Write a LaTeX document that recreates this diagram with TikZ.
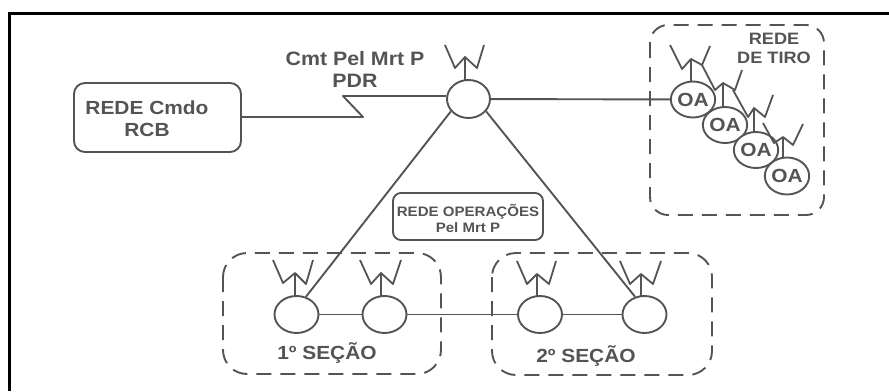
\documentclass[tikz,border=0pt]{standalone}
\usepackage{fontspec}
\setmainfont[FakeStretch=1.1]{Liberation Sans}
\usetikzlibrary{shapes.geometric}
\definecolor{ink}{gray}{0.33}
\tikzset{
  x=1pt,y=-1pt,
  line/.style={draw=ink,line width=1.9pt,line join=round},
  radio/.style={line,draw=ink,ellipse,minimum width=44pt,minimum height=37pt,inner sep=0pt,fill=white},
  observer/.style={radio,font=\bfseries\fontsize{19}{19}\selectfont,text=ink},
  antenna/.style={line,line width=1.8pt},
  netbox/.style={line,rounded corners=11pt,inner sep=0pt},
  zone/.style={draw=ink,line width=1.9pt,dash pattern=on 15pt off 9pt,rounded corners=24pt},
  label/.style={text=ink,align=center,inner sep=0pt},
  frame/.style={draw=black,line width=3pt}
}
\begin{document}
\begin{tikzpicture}
\useasboundingbox (0,0) rectangle (889,391);
% page frame
\draw[frame] (9,391) -- (9,13.5) -- (889,13.5);
% zones
\draw[zone,rounded corners=18pt] (650,25) rectangle (824,215);
\draw[zone] (223,253) rectangle (441,374);
\draw[zone] (492,253) rectangle (712,375);
% stations
\node[radio,minimum width=43pt,minimum height=38pt] (pdr) at (468.5,99) {};
\node[radio] (s1) at (296.5,314.5) {};
\node[radio] (s2) at (384.5,314.5) {};
\node[radio] (s3) at (540,314.5) {};
\node[radio] (s4) at (644.5,314.5) {};
\node[netbox,minimum width=167pt,minimum height=69pt] (rcb) at (157.5,117.5) {};
\node[netbox,minimum width=150pt,minimum height=47pt,rounded corners=8pt] (ops) at (468,216.5) {};
% connectors
\coordinate (z1) at (363,117);
\coordinate (z2) at (343,96);
\draw[line] (rcb.east |- z1) -- (z1) -- (z2) -- (pdr.west |- z2);
\draw[line] (pdr.215) -- (s1.62);
\draw[line] (pdr.-35) -- (s4.118);
\draw[line] (s1) -- (s2);
\draw[line] (s2) -- (s3);
\draw[line] (s3) -- (s4);
% observers
\node[observer,minimum width=42pt,minimum height=36pt] (oa1) at (693,99.5) {OA};
\draw[line] (pdr) -- (oa1);
\node[observer,minimum width=43pt,minimum height=36pt] (oa2) at (725,125) {OA};
\node[observer,minimum width=42pt,minimum height=36pt] (oa3) at (756,150) {OA};
\node[observer,minimum width=43pt,minimum height=37pt] (oa4) at (787,176) {OA};
% antennas
\draw[antenna] (445,45) -- (455,68) -- (465,57) -- (477,68) -- (484,45);
\draw[antenna] (465,57) -- (465,80);
\draw[antenna] (670,45) -- (682,69) -- (691,59) -- (702,65) -- (710,46);
\draw[antenna] (691,59) -- (691,82);
\draw[antenna] (702,65) -- (715,90) -- (723,83) -- (735,90) -- (742,70);
\draw[antenna] (723,83) -- (723,108);
\draw[antenna] (733,90) -- (748,117) -- (754,108) -- (765,117) -- (773,95);
\draw[antenna] (754,108) -- (754,133);
\draw[antenna] (763,123) -- (774,143) -- (783,137) -- (793,145) -- (803,124);
\draw[antenna] (783,137) -- (783,158);
\draw[antenna] (273,260) -- (283,283) -- (295,273) -- (306,284) -- (313,260);
\draw[antenna] (295,273) -- (295,296);
\draw[antenna] (360,260) -- (371,284) -- (381,273) -- (393,284) -- (401,260);
\draw[antenna] (381,273) -- (381,296);
\draw[antenna] (517,261) -- (527,284) -- (537,274) -- (549,284) -- (556,261);
\draw[antenna] (537,274) -- (537,296);
\draw[antenna] (620,261) -- (630,284) -- (641,274) -- (653,284) -- (661,261);
\draw[antenna] (641,274) -- (641,296);
% labels
\node[label,font=\bfseries\fontsize{19.4}{22}\selectfont] (l1) at (355,69) {Cmt Pel Mrt P\\[0pt]PDR};
\node[label,font=\bfseries\fontsize{19}{22}\selectfont] (l2) at (147,119) {REDE Cmdo\\[0pt]RCB};
\node[label,font=\bfseries\fontsize{13.7}{16}\selectfont] (l3) at (468,218) {REDE OPERAÇÕES\\[0pt]Pel Mrt P};
\node[label,font=\bfseries\fontsize{16.5}{19.5}\selectfont] (l4) at (774,48.5) {REDE\\[0pt]DE TIRO};
\node[label,font=\bfseries\fontsize{19}{19}\selectfont] (l5) at (327,353) {1º SEÇÃO};
\node[label,font=\bfseries\fontsize{19}{19}\selectfont] (l6) at (586,356) {2º SEÇÃO};
\end{tikzpicture}
\end{document}
